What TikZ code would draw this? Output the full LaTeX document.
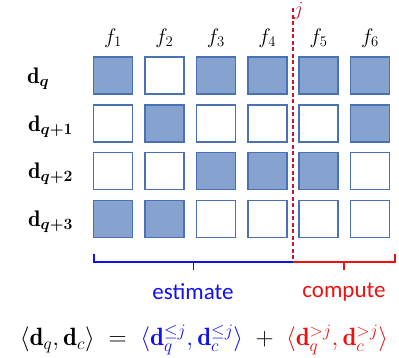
\RequirePackage{fix-cm}
\documentclass[tikz,border=0pt]{standalone}
\usepackage{amsmath}
\usepackage{bm}
\usepackage{fontspec}
\setsansfont{Carlito}
\usepackage{tikz}
\usetikzlibrary{positioning, calc}
\definecolor{cellfill}{HTML}{86A2CF}
\definecolor{cellline}{HTML}{4A70B5}
\definecolor{estblue}{HTML}{1010F0}
\definecolor{cmpred}{HTML}{F01010}
\definecolor{splitred}{HTML}{C01830}
\tikzset{
  cell/.style     = {draw=cellline, fill=white, line width=1.6pt,
                     minimum width=39pt, minimum height=37pt, inner sep=0pt},
  cellon/.style   = {cell, fill=cellfill},
  featlab/.style  = {font=\fontsize{21}{25}\selectfont},
  rowlab/.style   = {font=\fontsize{22.5}{26}\selectfont, anchor=west, inner sep=0pt},
  brace/.style    = {line width=1.8pt},
  worded/.style   = {font=\sffamily\fontsize{23}{27}\selectfont},
}

\begin{document}
\begin{tikzpicture}[x=1pt, y=-1pt]
  \useasboundingbox (0,0) rectangle (399,357);
  % grid of feature cells
  \foreach \r/\pat in {1/{1,0,1,1,1,1}, 2/{0,1,0,0,0,1}, 3/{0,0,1,1,1,0}, 4/{1,1,0,0,0,0}} {
    \foreach \v [count=\c] in \pat {
      \ifnum\v=1
        \node[cellon] (c\r\c) at ({113+(\c-1)*51.4}, {75.5+(\r-1)*47.8}) {};
      \else
        \node[cell] (c\r\c) at ({113+(\c-1)*51.4}, {75.5+(\r-1)*47.8}) {};
      \fi
    }
  }
  % column labels
  \foreach \c in {1,...,6}
    \node[featlab] (f\c) at ({113+(\c-1)*51.4}, 38) {$f_{\c}$};
  % row labels
  \node[rowlab] (dq)  at (27, 78.5)  {$\mathbf{d}_{\bm{q}}$};
  \node[rowlab] (dq1) at (28, 126.5) {$\mathbf{d}_{\bm{q+1}}$};
  \node[rowlab] (dq2) at (28, 174)   {$\mathbf{d}_{\bm{q+2}}$};
  \node[rowlab] (dq3) at (28, 222)   {$\mathbf{d}_{\bm{q+3}}$};
  % split at j
  \coordinate (jtop) at (293, 8);
  \coordinate (jbot) at (293, 262);
  \draw[splitred, line width=1.4pt, dash pattern=on 4pt off 2.5pt] (jtop) -- (jbot);
  \node[splitred, font=\fontsize{20}{24}\selectfont, anchor=north west, inner sep=0pt]
    (jlab) at (294, 2) {$j$};
  % braces
  \coordinate (bl) at (94, 254);
  \coordinate (br) at (395, 254);
  \draw[brace, estblue] (bl) |- (jbot);
  \draw[brace, cmpred] (jbot) -| (br);
  \draw[brace, estblue] ($(bl |- jbot)!0.5!(jbot)$) coordinate (bm) -- ++(0, 8);
  \draw[brace, cmpred] ($(jbot)!0.5!(br |- jbot)$) coordinate (rm) -- ++(0, 8);
  \node[worded, estblue] (est) at (193, 292) {estimate};
  \node[worded, cmpred]  (cmp) at (344, 292) {compute};
  % decomposition of the inner product
  \node[font=\fontsize{25}{29}\selectfont] (eq) at (204, 340)
    {$\langle \mathbf{d}_q, \mathbf{d}_c \rangle \;=\;
      \textcolor{estblue}{\langle \mathbf{d}_q^{\le j}, \mathbf{d}_c^{\le j} \rangle}
      \;+\;
      \textcolor{cmpred}{\langle \mathbf{d}_q^{> j}, \mathbf{d}_c^{> j} \rangle}$};
\end{tikzpicture}
\end{document}
